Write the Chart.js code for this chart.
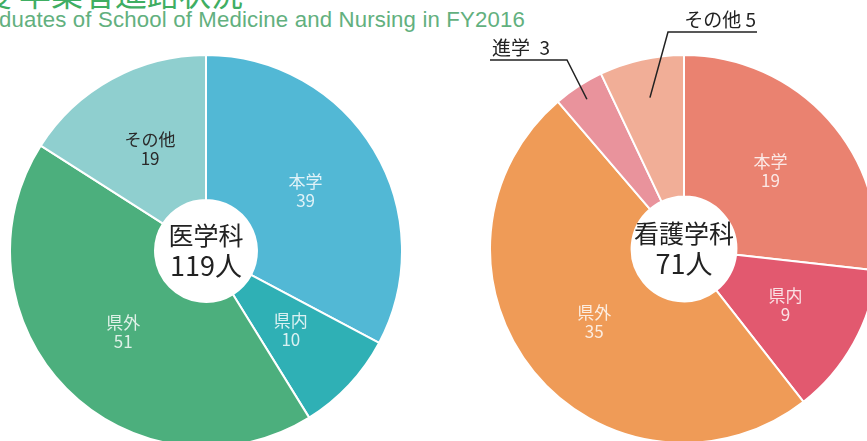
<!DOCTYPE html>
<html lang="ja">
<head>
  <meta charset="UTF-8" />
  <title>卒業者進路状況</title>
  <script src="https://cdn.jsdelivr.net/npm/chart.js"></script>
  <style>
    html, body { margin: 0; padding: 0; background: #fff; width: 867px; height: 441px; overflow: hidden; }
    body { position: relative; font-family: "Noto Sans CJK JP", "Noto Sans", sans-serif; }
    .title-jp { position: absolute; right: 624px; top: -24px; font-size: 32px; color: #3fae62; white-space: nowrap; line-height: 32px; }
    .title-en { position: absolute; right: 342px; top: 9px; font-family: "Liberation Sans", Arial, sans-serif; font-size: 22.2px; letter-spacing: 0.16px; color: #62b07e; white-space: nowrap; line-height: 22px; }
    canvas { position: absolute; }
  </style>
</head>
<body>

<div class="title-jp">平成28年度 卒業者進路状況</div>
<div class="title-en">Graduates of School of Medicine and Nursing in FY2016</div>

<canvas id="medChart" width="394" height="394" style="left:9px; top:54px;"></canvas>
<canvas id="nurChart" width="390" height="444" style="left:489px; top:0px;"></canvas>

<script>
  // 医学科
  const medName = '医学科';
  const medLabels = ['本学', '県内', '県外', 'その他'];
  const medValues = [39, 10, 51, 19];

  // 看護学科
  const nurName = '看護学科';
  const nurLabels = ['本学', '県内', '県外', '進学', 'その他'];
  const nurValues = [19, 9, 35, 3, 5];

  const medColors = ['#52b8d5', '#2fb0b5', '#4caf7d', '#8fcfcf'];
  const medTextColors = ['rgba(255,255,255,0.82)', 'rgba(255,255,255,0.82)', 'rgba(255,255,255,0.82)', '#2a2a2a'];
  const nurColors = ['#ea8270', '#e2596f', '#ef9b57', '#e9939c', '#f1ae97'];
  const nurTextColors = ['rgba(255,255,255,0.82)', 'rgba(255,255,255,0.82)', 'rgba(255,255,255,0.82)', null, null];

  const jpFont = '"Noto Sans CJK JP", "Noto Sans", sans-serif';

  // slice labels + center text
  const labelPlugin = {
    id: 'sliceLabels',
    afterDatasetsDraw(chart, args, opts) {
      const ctx = chart.ctx;
      const meta = chart.getDatasetMeta(0);
      const labels = chart.data.labels;
      const values = chart.data.datasets[0].data;
      ctx.save();
      ctx.textAlign = 'center';
      ctx.textBaseline = 'middle';
      meta.data.forEach((arc, i) => {
        const color = opts.textColors[i];
        if (!color) return;
        const p = arc.getProps(['x', 'y', 'startAngle', 'endAngle', 'innerRadius', 'outerRadius'], true);
        const mid = (p.startAngle + p.endAngle) / 2;
        const r = p.innerRadius + (p.outerRadius - p.innerRadius) * 0.45;
        const x = p.x + Math.cos(mid) * r;
        const y = p.y + Math.sin(mid) * r;
        ctx.fillStyle = color;
        ctx.font = '17px ' + jpFont;
        ctx.fillText(labels[i], x, y - 10);
        ctx.fillText(String(values[i]), x, y + 9);
      });

      // center
      const c = meta.data[0];
      const total = values.reduce((a, b) => a + b, 0);
      ctx.fillStyle = '#222';
      ctx.font = '25px ' + jpFont;
      ctx.fillText(opts.name, c.x, c.y - 16);
      ctx.font = '27px ' + jpFont;
      ctx.fillText(total + '人', c.x, c.y + 15);

      // callouts for small slices
      (opts.callouts || []).forEach(co => {
        const a = meta.data[co.index];
        const p = a.getProps(['x', 'y', 'startAngle', 'endAngle', 'outerRadius'], true);
        const mid = (p.startAngle + p.endAngle) / 2;
        const ax = p.x + Math.cos(mid) * p.outerRadius * co.rf;
        const ay = p.y + Math.sin(mid) * p.outerRadius * co.rf;
        ctx.strokeStyle = '#222';
        ctx.lineWidth = 1.5;
        ctx.beginPath();
        ctx.moveTo(ax, ay);
        ctx.lineTo(co.elbow[0], co.elbow[1]);
        ctx.lineTo(co.end, co.elbow[1]);
        ctx.stroke();
        ctx.fillStyle = '#222';
        ctx.font = co.size + 'px ' + jpFont;
        ctx.textBaseline = 'alphabetic';
        ctx.textAlign = co.align;
        ctx.fillText(labels[co.index] + co.gap + values[co.index], co.tx, co.elbow[1] - 5);
        ctx.textAlign = 'center';
        ctx.textBaseline = 'middle';
      });
      ctx.restore();
    }
  };

  function makeChart(id, labels, values, colors, pluginOpts, padding, cutout) {
    return new Chart(document.getElementById(id), {
      type: 'doughnut',
      data: {
        labels,
        datasets: [{
          data: values,
          backgroundColor: colors,
          borderColor: '#ffffff',
          borderWidth: 2
        }]
      },
      options: {
        responsive: false,
        animation: false,
        cutout: cutout,
        layout: { padding },
        plugins: {
          legend: { display: false },
          tooltip: { enabled: false },
          sliceLabels: pluginOpts
        }
      },
      plugins: [labelPlugin]
    });
  }

  makeChart('medChart', medLabels, medValues, medColors,
    { name: medName, textColors: medTextColors }, 0, '26%');

  makeChart('nurChart', nurLabels, nurValues, nurColors,
    {
      name: nurName,
      textColors: nurTextColors,
      callouts: [
        { index: 3, rf: 0.92, elbow: [78, 60], end: 1, tx: 3, align: 'left', size: 19, gap: '\u2002' },
        { index: 4, rf: 0.8, elbow: [179, 32], end: 268, tx: 267, align: 'right', size: 19, gap: ' ' }
      ]
    },
    { top: 54, bottom: 0 }, '27%');
</script>

</body>
</html>
